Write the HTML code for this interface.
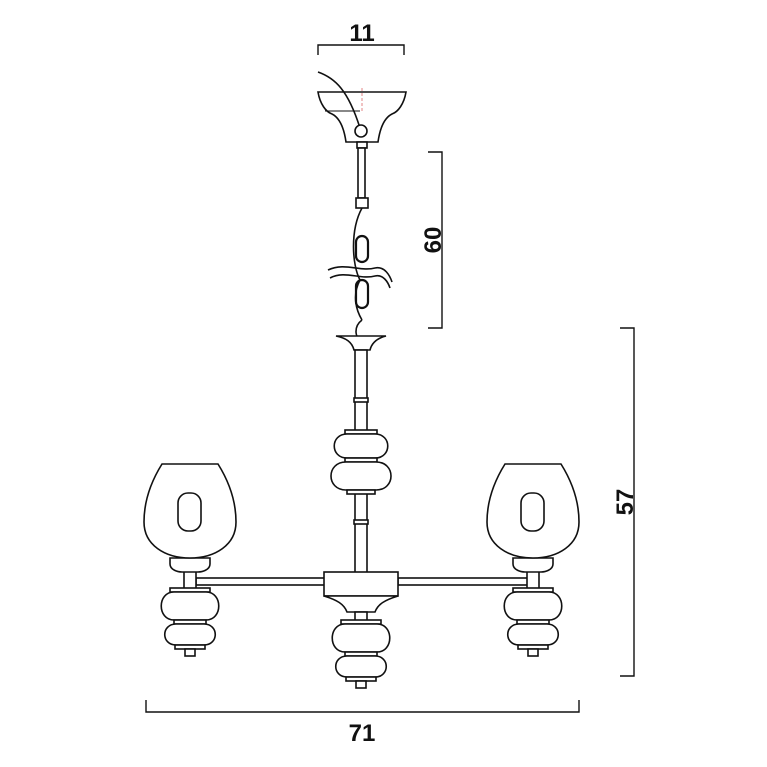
<!DOCTYPE html>
<html><head><meta charset="utf-8"><style>
html,body{margin:0;padding:0;background:#fff;}
svg{display:block;}
text{font-family:"Liberation Sans",sans-serif;font-weight:bold;font-size:24px;fill:#111;}
</style></head><body>
<svg width="767" height="767" viewBox="0 0 767 767" xmlns="http://www.w3.org/2000/svg">
<defs>
<g id="ball" fill="#fff" stroke="#111" stroke-width="1.6">
  <rect x="-20" y="0" width="40" height="4"/>
  <path d="M-16 4 C-33 4 -33 32 -16 32 L16 32 C33 32 33 4 16 4 Z"/>
  <rect x="-16" y="32" width="32" height="4"/>
  <path d="M-14 36 C-29 36 -29 57 -14 57 L14 57 C29 57 29 36 14 36 Z"/>
  <rect x="-15" y="57" width="30" height="4"/>
  <rect x="-5" y="61" width="10" height="7"/>
</g>
<g id="lamp" fill="#fff" stroke="#111" stroke-width="1.6">
  <rect x="-6" y="570" width="12" height="20"/>
  <path d="M-20 558 L20 558 L20 564 C20 570 12 572 8 572 L-8 572 C-12 572 -20 570 -20 564 Z"/>
  <path d="M-28 464 L28 464 C38 480 46 500 46 522 C46 545 25 558 0 558 C-25 558 -46 545 -46 522 C-46 500 -38 480 -28 464 Z"/>
  <rect x="-12" y="493" width="23" height="38" rx="10"/>
  <use href="#ball" y="588"/>
</g>
</defs>

<g stroke="#111" stroke-width="1.4" fill="none">
  <path d="M318 55 V45 H404 V55"/>
  <path d="M428 152 H442 V328 H428"/>
  <path d="M620 328 H634 V676 H620"/>
  <path d="M146 700 V712 H579 V700"/>
</g>
<text x="362" y="41" text-anchor="middle">11</text>
<text transform="translate(441,240) rotate(-90)" text-anchor="middle">60</text>
<text transform="translate(633,502) rotate(-90)" text-anchor="middle">57</text>
<text x="362" y="741" text-anchor="middle">71</text>

<g fill="#fff" stroke="#111" stroke-width="1.6">
  <path d="M318 92 H406 C404 104 398 112 392 114 C384 118 380 128 378 142 H346 C344 128 340 118 332 114 C326 112 320 104 318 92 Z"/>
  <line x1="325" y1="111" x2="360" y2="111" stroke-width="1"/>
  <line x1="362" y1="88" x2="362" y2="112" stroke="#d66" stroke-width="0.8" stroke-dasharray="3,2"/>
  <path d="M318 72 C335 78 348 90 360 128" fill="none"/>
  <circle cx="361" cy="131" r="6"/>
  <rect x="357" y="142" width="10" height="6"/>
  <rect x="358" y="148" width="7" height="50"/>
  <rect x="356" y="198" width="12" height="10"/>
  <rect x="356" y="236" width="12" height="26" rx="6" stroke-width="2.2"/>
  <rect x="356" y="280" width="12" height="28" rx="6" stroke-width="2.2"/>
  <path d="M362 208 C350 230 352 265 360 280 C352 295 356 310 362 320" fill="none"/>
  <path d="M328 270 C345 262 360 272 375 268 C385 266 390 276 392 282" fill="none"/>
  <path d="M330 278 C345 270 360 280 375 276 C383 274 388 282 390 288" fill="none"/>
  <path d="M362 320 C354 326 354 338 362 340" fill="none"/>
  <path d="M336 336 H386 C378 338 372 342 370 350 H354 C352 342 346 338 336 336 Z"/>
  <rect x="355" y="350" width="12" height="225"/>
  <rect x="354" y="398" width="14" height="4"/>
  <rect x="354" y="520" width="14" height="4"/>
  <rect x="345" y="430" width="32" height="4"/>
  <path d="M347 434 C330 434 330 458 347 458 L375 458 C392 458 392 434 375 434 Z"/>
  <rect x="345" y="458" width="32" height="4"/>
  <path d="M346 462 C326 462 326 490 346 490 L376 490 C396 490 396 462 376 462 Z"/>
  <rect x="347" y="490" width="28" height="4"/>
  <rect x="196" y="578" width="130" height="7"/>
  <rect x="398" y="578" width="130" height="7"/>
  <rect x="324" y="572" width="74" height="24"/>
  <path d="M324 596 H398 C385 600 378 604 375 612 H347 C344 604 337 600 324 596 Z"/>
  <rect x="355" y="612" width="12" height="10"/>
</g>
<use href="#ball" x="361" y="620"/>
<use href="#lamp" x="190"/>
<use href="#lamp" x="533"/>
</svg>
</body></html>
